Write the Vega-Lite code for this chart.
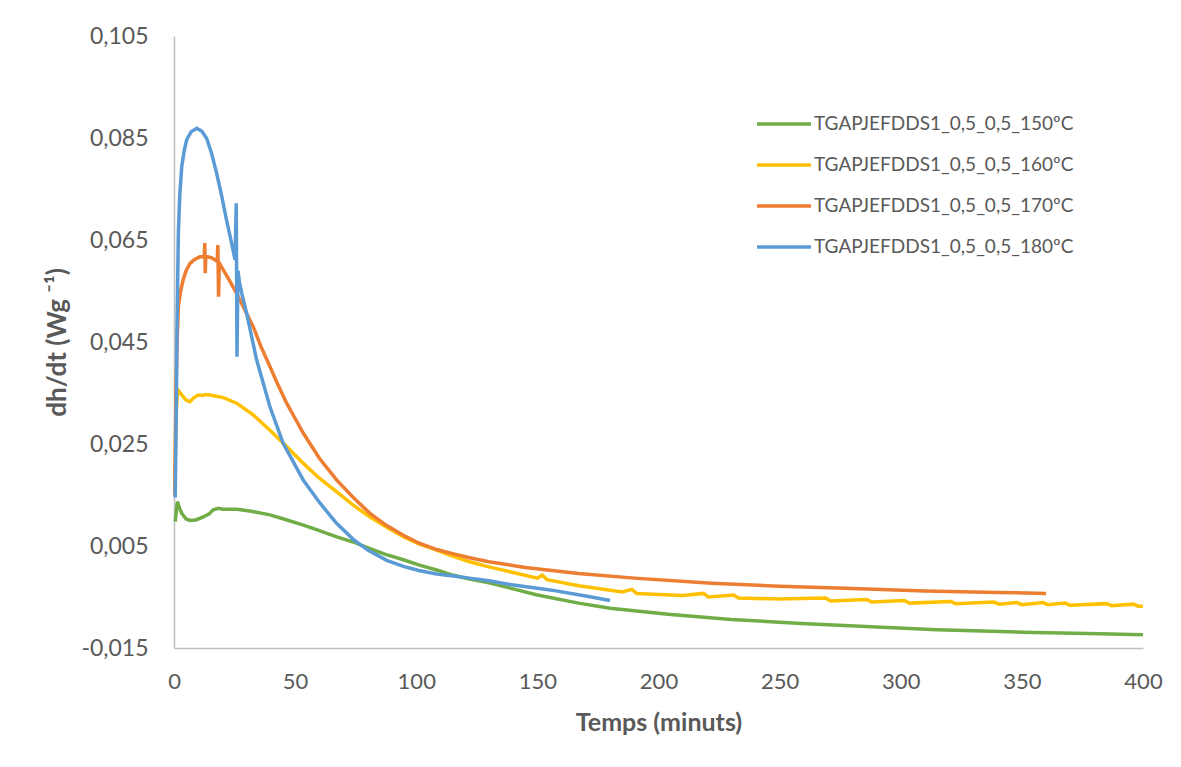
{
  "$schema": "https://vega.github.io/schema/vega-lite/v6.json",
  "width": 969,
  "height": 612,
  "autosize": {"type": "none"},
  "padding": {"left": 174, "top": 36, "right": 38, "bottom": 119},
  "background": "white",
  "config": {
    "view": {"stroke": null},
    "font": "Lato",
    "locale": {"number": {"decimal": ",", "thousands": ".", "grouping": [3], "currency": ["", " €"], "minus": "-"}}
  },
  "datasets": {
    "d150": [
      {"t": 0.5, "v": 0.0098}, {"t": 1.4, "v": 0.0137}, {"t": 2.2, "v": 0.0125}, {"t": 3.2, "v": 0.0114},
      {"t": 5, "v": 0.0103}, {"t": 6.6, "v": 0.0100}, {"t": 9, "v": 0.0101}, {"t": 12.1, "v": 0.0107},
      {"t": 14.5, "v": 0.0113}, {"t": 16.2, "v": 0.0121}, {"t": 18.3, "v": 0.0124}, {"t": 20, "v": 0.0122},
      {"t": 25.9, "v": 0.0122}, {"t": 32, "v": 0.0118}, {"t": 39.6, "v": 0.0111}, {"t": 46, "v": 0.0102},
      {"t": 53.4, "v": 0.0091}, {"t": 60, "v": 0.0080}, {"t": 67.2, "v": 0.0068}, {"t": 75, "v": 0.0056},
      {"t": 80.9, "v": 0.0045}, {"t": 87, "v": 0.0034}, {"t": 94.7, "v": 0.0023}, {"t": 101, "v": 0.0013},
      {"t": 108.4, "v": 0.0003}, {"t": 115, "v": -0.0007}, {"t": 122, "v": -0.0015}, {"t": 130, "v": -0.0022},
      {"t": 140, "v": -0.0034}, {"t": 150, "v": -0.0046}, {"t": 167, "v": -0.0062}, {"t": 180, "v": -0.0072},
      {"t": 204, "v": -0.0084}, {"t": 230, "v": -0.0094}, {"t": 259, "v": -0.0102}, {"t": 290, "v": -0.0109},
      {"t": 315, "v": -0.0114}, {"t": 350, "v": -0.0119}, {"t": 382, "v": -0.0122}, {"t": 400, "v": -0.0124}
    ],
    "d160": [
      {"t": 0.3, "v": 0.015}, {"t": 0.8, "v": 0.030}, {"t": 1.5, "v": 0.0357}, {"t": 2.5, "v": 0.0350},
      {"t": 3.8, "v": 0.0343}, {"t": 5, "v": 0.0336}, {"t": 6.6, "v": 0.0333}, {"t": 8, "v": 0.0340},
      {"t": 10, "v": 0.0346}, {"t": 12, "v": 0.0345}, {"t": 13, "v": 0.0347}, {"t": 14.9, "v": 0.0346},
      {"t": 20.4, "v": 0.0341}, {"t": 25.9, "v": 0.0330}, {"t": 32.7, "v": 0.0307}, {"t": 39.6, "v": 0.0277},
      {"t": 46.5, "v": 0.0245}, {"t": 53.4, "v": 0.0212}, {"t": 60, "v": 0.0183}, {"t": 67.2, "v": 0.0156},
      {"t": 74, "v": 0.0130}, {"t": 80.9, "v": 0.0107}, {"t": 87.8, "v": 0.0087}, {"t": 94.7, "v": 0.0068},
      {"t": 101, "v": 0.0054}, {"t": 108.4, "v": 0.0042}, {"t": 115, "v": 0.0030}, {"t": 122, "v": 0.0019},
      {"t": 130, "v": 0.0009}, {"t": 140, "v": -0.0002}, {"t": 150, "v": -0.0013}, {"t": 152, "v": -0.0007},
      {"t": 154, "v": -0.0016}, {"t": 167, "v": -0.0028}, {"t": 185, "v": -0.0040}, {"t": 189, "v": -0.0035},
      {"t": 191, "v": -0.0043}, {"t": 210, "v": -0.0047}, {"t": 218.6, "v": -0.0043}, {"t": 220.5, "v": -0.0050},
      {"t": 231, "v": -0.0046}, {"t": 233, "v": -0.0052}, {"t": 250, "v": -0.0054}, {"t": 269, "v": -0.0052},
      {"t": 271, "v": -0.0058}, {"t": 286, "v": -0.0055}, {"t": 288, "v": -0.0060}, {"t": 301.5, "v": -0.0057},
      {"t": 303.5, "v": -0.0062}, {"t": 320.7, "v": -0.0059}, {"t": 322.7, "v": -0.0063}, {"t": 338.5, "v": -0.0060},
      {"t": 340.5, "v": -0.0064}, {"t": 348, "v": -0.0061}, {"t": 350, "v": -0.0065}, {"t": 358.7, "v": -0.0061},
      {"t": 360.7, "v": -0.0065}, {"t": 367.8, "v": -0.0062}, {"t": 369.8, "v": -0.0066}, {"t": 385, "v": -0.0063},
      {"t": 387, "v": -0.0067}, {"t": 396, "v": -0.0064}, {"t": 398, "v": -0.0068}, {"t": 400, "v": -0.0068}
    ],
    "d170": [
      {"t": 0.3, "v": 0.015}, {"t": 0.8, "v": 0.035}, {"t": 1.2, "v": 0.044}, {"t": 1.8, "v": 0.0519},
      {"t": 2.8, "v": 0.0552}, {"t": 3.8, "v": 0.0572}, {"t": 5, "v": 0.0590}, {"t": 6.6, "v": 0.0604},
      {"t": 8.5, "v": 0.0612}, {"t": 10.7, "v": 0.0617}, {"t": 12.5, "v": 0.0617}, {"t": 12.7, "v": 0.0644},
      {"t": 12.9, "v": 0.0585}, {"t": 13.1, "v": 0.0618}, {"t": 15.6, "v": 0.0615}, {"t": 17.8, "v": 0.0608},
      {"t": 18.1, "v": 0.0640}, {"t": 18.4, "v": 0.0539}, {"t": 18.7, "v": 0.0605}, {"t": 20.4, "v": 0.0591},
      {"t": 23, "v": 0.0570}, {"t": 25.9, "v": 0.0545}, {"t": 29, "v": 0.0515}, {"t": 32.7, "v": 0.0480},
      {"t": 36, "v": 0.0440}, {"t": 39.6, "v": 0.0402}, {"t": 43, "v": 0.0365}, {"t": 46.5, "v": 0.0330},
      {"t": 50, "v": 0.0300}, {"t": 53.4, "v": 0.0271}, {"t": 60, "v": 0.0222}, {"t": 67.2, "v": 0.0179},
      {"t": 74, "v": 0.0145}, {"t": 80.9, "v": 0.0114}, {"t": 87.8, "v": 0.0090}, {"t": 94.7, "v": 0.0071},
      {"t": 101, "v": 0.0056}, {"t": 108.4, "v": 0.0043}, {"t": 115, "v": 0.0035}, {"t": 122, "v": 0.0027},
      {"t": 130, "v": 0.0019}, {"t": 145, "v": 0.0008}, {"t": 167, "v": -0.0004}, {"t": 190, "v": -0.0013},
      {"t": 222, "v": -0.0023}, {"t": 250, "v": -0.0029}, {"t": 277, "v": -0.0033}, {"t": 310, "v": -0.0038},
      {"t": 340, "v": -0.0041}, {"t": 360, "v": -0.0043}
    ],
    "d180": [
      {"t": 0.5, "v": 0.0145}, {"t": 0.9, "v": 0.030}, {"t": 1.3, "v": 0.050}, {"t": 1.8, "v": 0.0664},
      {"t": 2.4, "v": 0.0740}, {"t": 3.2, "v": 0.0794}, {"t": 4.2, "v": 0.0825}, {"t": 5.2, "v": 0.0846},
      {"t": 7, "v": 0.0862}, {"t": 9.4, "v": 0.0869}, {"t": 11.5, "v": 0.0863}, {"t": 13.5, "v": 0.0849},
      {"t": 15.5, "v": 0.0820}, {"t": 17.6, "v": 0.0781}, {"t": 19.7, "v": 0.0736}, {"t": 21.7, "v": 0.0689},
      {"t": 23.5, "v": 0.0650}, {"t": 25.2, "v": 0.0611}, {"t": 25.7, "v": 0.0722}, {"t": 26.0, "v": 0.0421},
      {"t": 26.4, "v": 0.0590}, {"t": 27, "v": 0.0568}, {"t": 28, "v": 0.0545}, {"t": 30, "v": 0.0506},
      {"t": 34.1, "v": 0.0415}, {"t": 39.6, "v": 0.0323}, {"t": 45.1, "v": 0.0251}, {"t": 53.4, "v": 0.0179},
      {"t": 60.3, "v": 0.0134}, {"t": 67, "v": 0.0095}, {"t": 74, "v": 0.0063}, {"t": 80, "v": 0.0042},
      {"t": 87.8, "v": 0.0022}, {"t": 94.7, "v": 0.0010}, {"t": 101, "v": 0.0002}, {"t": 108.4, "v": -0.0005},
      {"t": 117, "v": -0.0010}, {"t": 122, "v": -0.0013}, {"t": 130, "v": -0.0018}, {"t": 139.4, "v": -0.0026},
      {"t": 150, "v": -0.0033}, {"t": 157.7, "v": -0.0038}, {"t": 170, "v": -0.0048}, {"t": 180, "v": -0.0057}
    ]
  },
  "layer": [
    {"data": {"name": "d150"}, "transform": [{"calculate": "'TGAPJEFDDS1_0,5_0,5_150ºC'", "as": "serie"}], "mark": {"type": "line", "strokeWidth": 3.5}, "encoding": {}},
    {"data": {"name": "d160"}, "transform": [{"calculate": "'TGAPJEFDDS1_0,5_0,5_160ºC'", "as": "serie"}], "mark": {"type": "line", "strokeWidth": 3.5}, "encoding": {}},
    {"data": {"name": "d170"}, "transform": [{"calculate": "'TGAPJEFDDS1_0,5_0,5_170ºC'", "as": "serie"}], "mark": {"type": "line", "strokeWidth": 3.5}, "encoding": {}},
    {"data": {"name": "d180"}, "transform": [{"calculate": "'TGAPJEFDDS1_0,5_0,5_180ºC'", "as": "serie"}], "mark": {"type": "line", "strokeWidth": 3.5}, "encoding": {}}
  ],
  "encoding": {
    "x": {
      "field": "t", "type": "quantitative",
      "scale": {"domain": [0, 400], "nice": false, "zero": false},
      "axis": {
        "values": [0, 50, 100, 150, 200, 250, 300, 350, 400], "format": "d",
        "title": "Temps (minuts)", "grid": false, "ticks": false,
        "domainColor": "#BFBFBF", "domainWidth": 1.5,
        "labelFontSize": 22, "labelColor": "#595959", "labelPadding": 23, "labelFlush": false,
        "titleFontSize": 25, "titleFontWeight": "bold", "titleColor": "#595959", "titlePadding": 18
      }
    },
    "y": {
      "field": "v", "type": "quantitative",
      "scale": {"domain": [-0.015, 0.105], "nice": false, "zero": false},
      "axis": {
        "values": [-0.015, 0.005, 0.025, 0.045, 0.065, 0.085, 0.105], "format": ".3f",
        "title": "dh/dt (Wg ⁻¹)", "grid": false, "ticks": false,
        "domainColor": "#BFBFBF", "domainWidth": 1.5,
        "labelFontSize": 23, "labelColor": "#595959", "labelPadding": 26, "labelFlush": false,
        "titleFontSize": 26, "titleFontWeight": "bold", "titleColor": "#595959", "titlePadding": 10
      }
    },
    "color": {
      "field": "serie", "type": "nominal",
      "scale": {
        "domain": ["TGAPJEFDDS1_0,5_0,5_150ºC", "TGAPJEFDDS1_0,5_0,5_160ºC", "TGAPJEFDDS1_0,5_0,5_170ºC", "TGAPJEFDDS1_0,5_0,5_180ºC"],
        "range": ["#70AD47", "#FFC000", "#ED7D31", "#5B9BD5"]
      },
      "legend": {
        "title": null, "orient": "none", "legendX": 581, "legendY": 77,
        "symbolType": "stroke", "symbolSize": 2916, "symbolStrokeWidth": 3.5,
        "labelFontSize": 19, "labelColor": "#595959", "labelOffset": 1, "labelLimit": 0,
        "rowPadding": 19, "clipHeight": 22, "padding": 0
      }
    }
  }
}
